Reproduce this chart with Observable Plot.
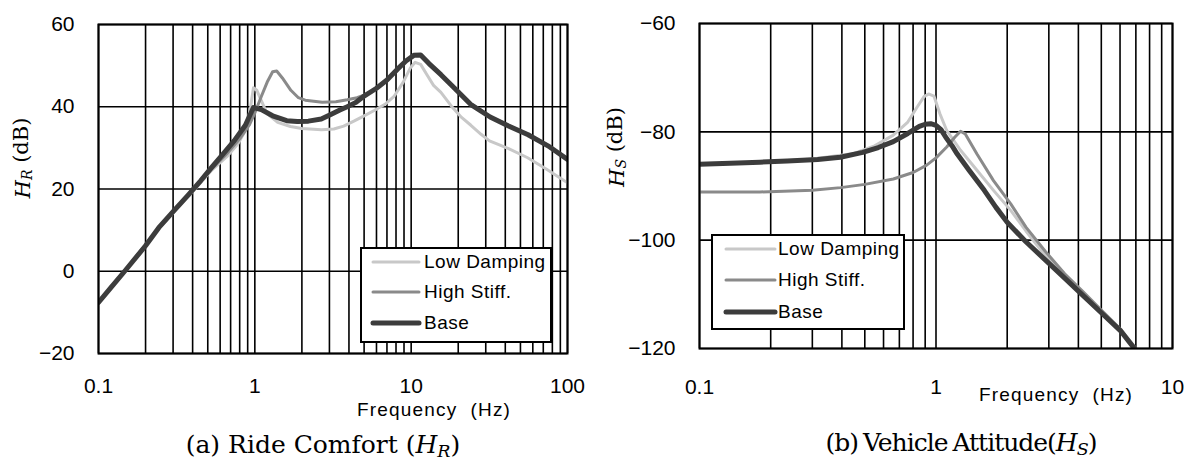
<!DOCTYPE html>
<html>
<head>
<meta charset="utf-8">
<script src="https://cdn.jsdelivr.net/npm/d3@7"></script>
<script src="https://cdn.jsdelivr.net/npm/@observablehq/plot@0.6"></script>
<style>
  html, body { margin: 0; padding: 0; background: #fff; }
  #page { position: relative; width: 1184px; height: 464px; overflow: hidden; background: #fff; }
  .panel { position: absolute; top: 0; }
  .caption { position: absolute; font-family: "DejaVu Serif", "Liberation Serif", serif; font-size: 25px; line-height: 30px; text-align: center; color: #000; white-space: nowrap; }
  .caption .sub { font-size: 70%; font-style: italic; position: relative; top: 0.25em; }
  .caption.tight { letter-spacing: -1px; word-spacing: -2px; }
  .legend { position: absolute; box-sizing: border-box; border: 2px solid #000; background: #fff; }
  .legend .row { position: absolute; left: 0; height: 0; }
  .legend .lab { position: absolute; font-family: "Liberation Sans", Arial, sans-serif; font-size: 19px; letter-spacing: 0.5px; line-height: 20px; top: -10px; white-space: nowrap; color: #000; }
  .legend svg { position: absolute; top: -5px; overflow: visible; }
</style>
</head>
<body>
<div id="page">
  <div id="left" class="panel" style="left:0px"></div>
  <div id="right" class="panel" style="left:592px"></div>
  <div class="caption" style="left:23px; width:600px; top:430px;">(a) Ride Comfort (<i>H</i><span class="sub">R</span>)</div>
  <div class="caption tight" style="left:661px; width:600px; top:428px;">(b) Vehicle Attitude(<i>H</i><span class="sub">S</span>)</div>
</div>
<script>
// ---------- Data ----------
const seriesNames = ["Low Damping", "High Stiff.", "Base"];
const seriesColors = ["#c8c8c8", "#8a8a8a", "#3c3c3c"];
const seriesWidths = [3, 3, 5];

// (a) Ride comfort H_R (dB) vs frequency (Hz)
const rideXTicks = [0.1, 1, 10, 100];
const rideYTicks = [-20, 0, 20, 40, 60];

const rideLowF  = [0.1, 0.147, 0.243, 0.378, 0.528, 0.66, 0.78, 0.88, 0.94, 0.98, 1.03, 1.1, 1.2, 1.4, 1.69, 2.0, 2.67, 3.2, 3.7, 4.3, 5.0, 5.8, 6.8, 7.8, 8.9, 9.9, 10.6, 11.5, 12.5, 13.9, 15.5, 18.4, 21, 24.1, 28, 31.7, 42, 55.6, 73.5, 100];
const rideLowDb = [-7.6, 0, 10.4, 18.3, 24.5, 27.8, 31, 34.5, 40, 44.6, 44, 41.5, 38.3, 36.2, 35.2, 34.7, 34.4, 34.6, 35.3, 36.5, 37.8, 39.1, 40.6, 42.6, 46, 49.5, 50.8, 50.3, 48, 45.2, 43.5, 39.8, 37.4, 35.5, 33.3, 31.7, 29.8, 27.6, 24.8, 21.5];

const rideHighF  = [0.1, 0.147, 0.243, 0.378, 0.528, 0.66, 0.8, 0.92, 1.0, 1.1, 1.2, 1.3, 1.38, 1.5, 1.7, 1.9, 2.1, 2.7, 3.3, 3.9, 4.5, 5.0, 6.0, 7.0, 8.2, 9.3, 10.4, 11.5, 13, 15.5, 18.4, 24, 32, 42, 56, 75, 100];
const rideHighDb = [-7.6, 0, 10.6, 18.6, 24.8, 28.5, 32.2, 35.5, 38.5, 42.5, 46, 48.5, 48.7, 47, 44, 42.2, 41.6, 41.1, 41.2, 41.7, 42.2, 42.8, 44.5, 46.5, 49.2, 51.2, 52.5, 52.7, 50.7, 47.9, 45.1, 40.7, 37.6, 35.4, 33.3, 30.6, 27.3];

const rideBaseF  = [0.1, 0.12, 0.147, 0.2, 0.243, 0.3, 0.378, 0.45, 0.528, 0.62, 0.737, 0.87, 0.98, 1.1, 1.3, 1.6, 1.87, 2.2, 2.66, 3.06, 3.5, 3.9, 4.4, 5.0, 6.0, 7.0, 8.2, 9.3, 10.4, 11.5, 13, 15.5, 18.4, 24, 32, 42, 56, 75, 100];
const rideBaseDb = [-7.6, -4, 0, 6.2, 10.6, 14.5, 18.7, 22, 25.2, 28.3, 31.7, 35.5, 39.8, 39.3, 37.8, 36.6, 36.4, 36.5, 37, 38.1, 39.2, 40, 41, 42.6, 44.5, 46.5, 49.2, 51.2, 52.5, 52.6, 50.5, 47.8, 45, 40.6, 37.5, 35.3, 33.2, 30.5, 27.2];

// (b) Vehicle attitude H_S (dB) vs frequency (Hz)
const attXTicks = [0.1, 1, 10];
const attYTicks = [-120, -100, -80, -60];

const attLowF  = [0.1, 0.2, 0.3, 0.45, 0.55, 0.66, 0.76, 0.83, 0.89, 0.93, 0.98, 1.04, 1.11, 1.27, 1.49, 1.75, 2.07, 2.4, 2.89, 3.5, 4.18, 5.0, 6.05, 6.9];
const attLowDb = [-86.0, -85.5, -85.0, -84.0, -82.6, -80.6, -78.2, -75.5, -73.5, -73.0, -73.4, -76.7, -79.75, -83.4, -87.1, -90.8, -94.5, -98.3, -102.8, -106.6, -109.9, -113.2, -116.7, -120];

const attHighF  = [0.1, 0.18, 0.3, 0.395, 0.5, 0.66, 0.8, 0.91, 1.0, 1.11, 1.2, 1.27, 1.33, 1.49, 1.75, 2.07, 2.4, 2.89, 3.5, 4.18, 5.0, 6.05, 7.0];
const attHighDb = [-91.1, -91.1, -90.8, -90.3, -89.7, -88.7, -87.5, -86.2, -84.8, -82.8, -81.0, -79.9, -80.4, -84.1, -89.0, -93.3, -97.6, -102.0, -106.2, -109.5, -112.9, -116.5, -120];

const attBaseF  = [0.1, 0.135, 0.18, 0.235, 0.316, 0.394, 0.49, 0.57, 0.66, 0.76, 0.85, 0.9, 0.95, 1.0, 1.05, 1.1, 1.17, 1.23, 1.38, 1.6, 1.79, 2.0, 2.4, 2.89, 3.5, 4.18, 5.0, 6.05, 6.9];
const attBaseDb = [-86.0, -85.8, -85.6, -85.4, -85.1, -84.7, -83.8, -82.9, -81.8, -80.3, -79.0, -78.6, -78.5, -78.8, -79.6, -81.0, -82.6, -84.1, -87.1, -90.8, -93.9, -96.7, -100.3, -103.6, -107, -110.2, -113.4, -116.8, -120];

// ---------- Helpers ----------
const toRows = (fs, dbs) => fs.map((f, i) => ({f, db: dbs[i]}));
const minusFmt = d => (d < 0 ? "\u2212" + (-d) : String(d));

function logGrid(lo, hi) {
  const out = [];
  for (let dec = lo; dec < hi * 0.999; dec *= 10) {
    for (let k = 1; k <= 9; k++) out.push(+(k * dec).toPrecision(3));
  }
  out.push(hi);
  return out;
}

function panel(opt) {
  const series = opt.series;
  const lineMarks = series.map((rows, i) =>
    Plot.line(rows, {x: "f", y: "db", stroke: seriesColors[i], strokeWidth: seriesWidths[i], strokeLinejoin: "round", strokeLinecap: "round", clip: true})
  );
  const svg = Plot.plot({
    width: opt.width, height: opt.height,
    marginLeft: opt.marginLeft, marginRight: opt.marginRight,
    marginTop: opt.marginTop, marginBottom: opt.marginBottom,
    style: {fontFamily: "'Liberation Sans', Arial, sans-serif", fontSize: "21px", color: "#000", background: "transparent", overflow: "visible"},
    x: {type: "log", domain: opt.xDomain},
    y: {domain: opt.yDomain},
    marks: [
      Plot.ruleX(logGrid(opt.xDomain[0], opt.xDomain[1]), {stroke: "#000", strokeWidth: 1.6}),
      Plot.ruleY(opt.yTicks, {stroke: "#000", strokeWidth: 1.6}),
      ...lineMarks,
      Plot.frame({stroke: "#000", strokeWidth: 2}),
      Plot.axisX({ticks: opt.xTicks, tickFormat: d => String(d), tickSize: 0, tickPadding: opt.xPad, label: null}),
      Plot.axisY({ticks: opt.yTicks, tickFormat: minusFmt, tickSize: 0, tickPadding: 24, label: null}),
      Plot.text(["Frequency\u00a0\u00a0(Hz)"], {frameAnchor: "bottom", dx: opt.labelDx, dy: opt.labelDy, fontSize: 19, fill: "#000"})
    ]
  });
  const s = d3.select(svg);
  s.selectAll("g[aria-label='text'] text").style("letter-spacing", "1.2px");
  // y-axis title with italic H and subscript
  const t = s.append("text")
    .attr("transform", `translate(${opt.yLabelX},${opt.yLabelY}) rotate(-90)`)
    .attr("text-anchor", "middle")
    .attr("dominant-baseline", "middle")
    .style("font-family", "'DejaVu Serif', 'Liberation Serif', serif")
    .style("font-size", "21px")
    .attr("fill", "#000");
  t.append("tspan").style("font-style", "italic").text("H");
  t.append("tspan").style("font-style", "italic").style("font-size", "14px").attr("dy", "0.3em").text(opt.sub);
  t.append("tspan").attr("dy", "-0.3em").text("\u00a0(dB)");
  return svg;
}

function legend(left, top, width, height, rowYs, sx0, sx1, tx) {
  const box = document.createElement("div");
  box.className = "legend";
  Object.assign(box.style, {left: left + "px", top: top + "px", width: width + "px", height: height + "px"});
  seriesNames.forEach((name, i) => {
    const row = document.createElement("div");
    row.className = "row";
    row.style.top = (rowYs[i] - 2) + "px";
    const svgNS = "http://www.w3.org/2000/svg";
    const sw = document.createElementNS(svgNS, "svg");
    sw.setAttribute("width", sx1 - sx0); sw.setAttribute("height", 10);
    sw.style.left = (sx0 - 2) + "px";
    const ln = document.createElementNS(svgNS, "line");
    ln.setAttribute("x1", 2); ln.setAttribute("x2", sx1 - sx0 - 1);
    ln.setAttribute("y1", 5); ln.setAttribute("y2", 5);
    ln.setAttribute("stroke", seriesColors[i]);
    ln.setAttribute("stroke-width", seriesWidths[i]);
    ln.setAttribute("stroke-linecap", "round");
    sw.appendChild(ln);
    const lab = document.createElement("div");
    lab.className = "lab";
    lab.style.left = (tx - 2) + "px";
    lab.textContent = name;
    row.appendChild(sw); row.appendChild(lab);
    box.appendChild(row);
  });
  document.getElementById("page").appendChild(box);
}

// ---------- Build ----------
document.getElementById("left").appendChild(panel({
  width: 592, height: 420, marginLeft: 98, marginRight: 25, marginTop: 24, marginBottom: 67,
  xDomain: [0.1, 100], yDomain: [-20, 60], xTicks: rideXTicks, yTicks: rideYTicks,
  xPad: 25, labelDx: 101, labelDy: 62, yLabelX: 24, yLabelY: 158, sub: "R",
  series: [toRows(rideLowF, rideLowDb), toRows(rideHighF, rideHighDb), toRows(rideBaseF, rideBaseDb)]
}));

document.getElementById("right").appendChild(panel({
  width: 592, height: 420, marginLeft: 107, marginRight: 12, marginTop: 23, marginBottom: 72,
  xDomain: [0.1, 10], yDomain: [-120, -60], xTicks: attXTicks, yTicks: attYTicks,
  xPad: 31, labelDx: 120, labelDy: 52, yLabelX: 26, yLabelY: 147, sub: "S",
  series: [toRows(attLowF, attLowDb), toRows(attHighF, attHighDb), toRows(attBaseF, attBaseDb)]
}));

legend(360, 247, 192, 96, [15, 45, 76], 11, 60, 64);
legend(711, 234, 194, 96, [15, 46, 78], 13, 65, 67);
</script>
</body>
</html>
